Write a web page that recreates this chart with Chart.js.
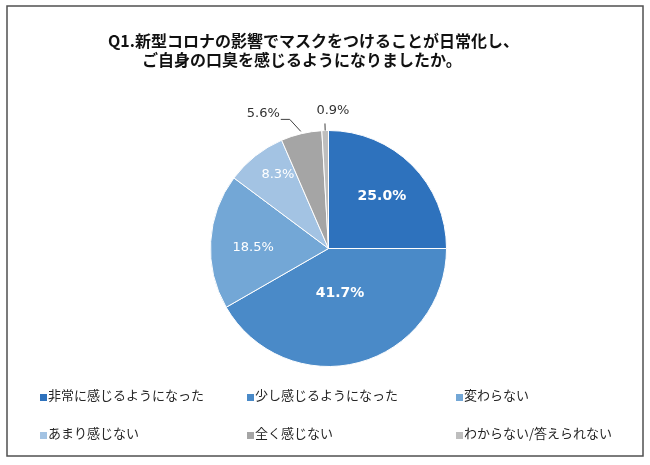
<!DOCTYPE html>
<html>
<head>
<meta charset="utf-8">
<script src="https://cdn.jsdelivr.net/npm/chart.js@4/dist/chart.umd.min.js"></script>
<style>
  body { margin: 0; background: #fff; }
  #wrap { width: 650px; height: 465px; }
</style>
</head>
<body>
<div id="wrap"><canvas id="pie" width="650" height="465"></canvas></div>
<script>
// données
const titleLines = ['Q1.新型コロナの影響でマスクをつけることが日常化し、', 'ご自身の口臭を感じるようになりましたか。']
const categories = ['非常に感じるようになった', '少し感じるようになった', '変わらない', 'あまり感じない', '全く感じない', 'わからない/答えられない']
const values = [25.0, 41.7, 18.5, 8.3, 5.6, 0.9]
const colors = ['#2E72BD', '#4A8AC8', '#73A7D6', '#A3C3E3', '#A5A5A5', '#BEBEBE']

// placement des étiquettes (style seulement)
const labelStyle = [
  { out: false, k: 0.64, dx: 0, dy: 1, bold: true },
  { out: false, k: 0.38, dx: 0, dy: 2, bold: true },
  { out: false, k: 0.64, dx: 0, dy: 4, bold: false },
  { out: false, k: 0.80, dx: 8, dy: 0, bold: false },
  { out: true, lead: 1.02, ex: -11, ey: -12 },
  { out: true, lead: 1.06 }
]

const JP = '"Noto Sans CJK JP", "Noto Sans", sans-serif'
const NUM = '"DejaVu Sans", Verdana, sans-serif'

const frame = {
  id: 'frame',
  beforeDraw(chart) {
    const ctx = chart.ctx
    ctx.save()
    ctx.fillStyle = '#fff'
    ctx.fillRect(0, 0, chart.width, chart.height)
    ctx.strokeStyle = '#505050'
    ctx.lineWidth = 1.5
    ctx.strokeRect(7, 6, 636, 450)
    // titre
    ctx.fillStyle = '#111'
    ctx.font = 'bold 16px ' + JP
    ctx.textBaseline = 'middle'
    ctx.textAlign = 'left'
    ctx.fillText(titleLines[0], 108, 41)
    ctx.fillText(titleLines[1], 142, 60)
    ctx.restore()
  }
}

const pieLabels = {
  id: 'pieLabels',
  afterDatasetsDraw(chart) {
    const ctx = chart.ctx
    const arcs = chart.getDatasetMeta(0).data
    ctx.save()
    ctx.textBaseline = 'middle'
    arcs.forEach((arc, i) => {
      const { x, y, startAngle, endAngle, outerRadius } = arc.getProps(['x', 'y', 'startAngle', 'endAngle', 'outerRadius'], true)
      const mid = (startAngle + endAngle) / 2
      const cs = Math.cos(mid), sn = Math.sin(mid)
      const st = labelStyle[i]
      const txt = values[i].toFixed(1) + '%'
      if (!st.out) {
        ctx.fillStyle = '#fff'
        ctx.font = (st.bold ? 'bold 14px ' : '13px ') + NUM
        ctx.textAlign = 'center'
        ctx.fillText(txt, x + cs * outerRadius * st.k + st.dx, y + sn * outerRadius * st.k + st.dy)
      } else {
        const x0 = x + cs * outerRadius, y0 = y + sn * outerRadius
        const x1 = x + cs * outerRadius * st.lead, y1 = y + sn * outerRadius * st.lead
        ctx.strokeStyle = '#404040'
        ctx.lineWidth = 1
        ctx.fillStyle = '#333'
        ctx.font = '13px ' + NUM
        ctx.beginPath()
        if (st.ex !== undefined) {
          // trait en coude vers la gauche
          const x2 = x1 + st.ex, y2 = y1 + st.ey
          ctx.moveTo(x1, y1)
          ctx.lineTo(x2, y2)
          ctx.lineTo(x2 - 9, y2)
          ctx.stroke()
          ctx.textAlign = 'right'
          ctx.fillText(txt, x2 - 10, y2 - 6)
        } else {
          ctx.moveTo(x0, y0)
          ctx.lineTo(x1, y1)
          ctx.stroke()
          ctx.textAlign = 'center'
          ctx.fillText(txt, x1 + 8, y1 - 13)
        }
      }
    })
    ctx.restore()
  }
}

const legendGrid = {
  id: 'legendGrid',
  afterDraw(chart) {
    const ctx = chart.ctx
    const colX = [40, 247, 456]
    const rowY = [395, 433]
    ctx.save()
    ctx.font = '13px ' + JP
    ctx.textBaseline = 'middle'
    ctx.textAlign = 'left'
    categories.forEach((c, i) => {
      const cx = colX[i % 3], cy = rowY[Math.floor(i / 3)]
      ctx.fillStyle = colors[i]
      ctx.fillRect(cx, cy - 1, 7, 7)
      ctx.fillStyle = '#262626'
      ctx.fillText(c, cx + 8, cy)
    })
    ctx.restore()
  }
}

new Chart(document.getElementById('pie'), {
  type: 'pie',
  data: {
    labels: categories,
    datasets: [{
      data: values,
      backgroundColor: colors,
      borderColor: '#fff',
      borderWidth: 1,
      hoverOffset: 0,
      offset: 0
    }]
  },
  options: {
    responsive: false,
    animation: false,
    events: [],
    layout: { padding: { left: 210, right: 203, top: 130, bottom: 98 } },
    plugins: {
      legend: { display: false },
      title: { display: false },
      tooltip: { enabled: false }
    }
  },
  plugins: [frame, pieLabels, legendGrid]
})
</script>
</body>
</html>
